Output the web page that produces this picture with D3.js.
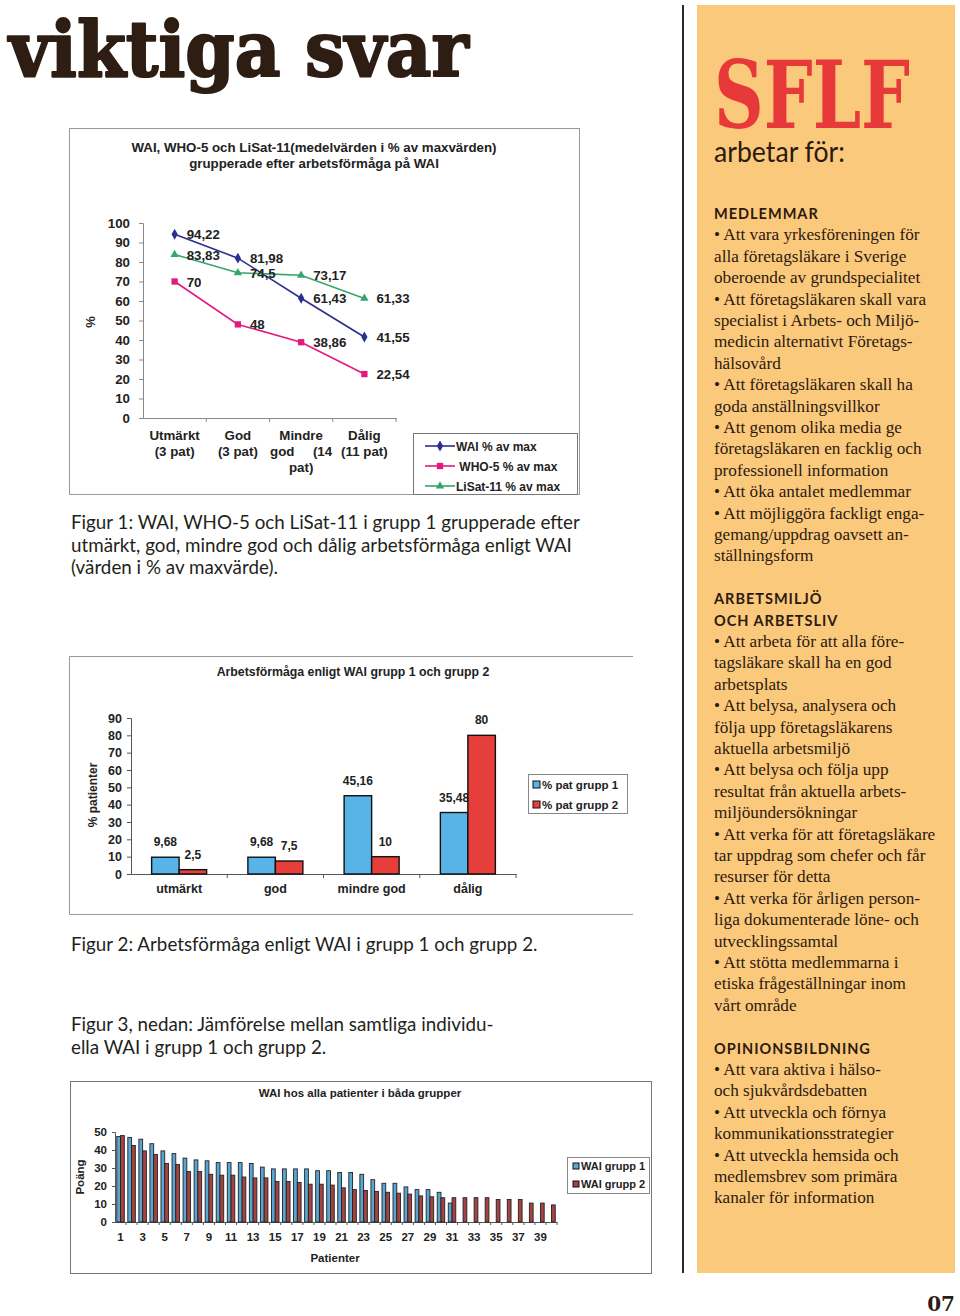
<!DOCTYPE html>
<html><head><meta charset="utf-8">
<script src="https://cdn.jsdelivr.net/npm/d3@7"></script>
<style>body{margin:0;background:#fff}svg{display:block}</style>
</head><body>
<script>
// ---------- Figure 1 data ----------
const fig1Categories = ["Utmärkt", "God", "Mindre god", "Dålig"];
const fig1TickLines = [["Utmärkt", "(3 pat)"], ["God", "(3 pat)"], ["Mindre", "god\u00a0\u00a0\u00a0\u00a0\u00a0(14", "pat)"], ["Dålig", "(11 pat)"]];
const waiValues = [94.22, 81.98, 61.43, 41.55];
const who5Values = [70, 48, 38.86, 22.54];
const lisatValues = [83.83, 74.5, 73.17, 61.33];
const fig1SeriesNames = ["WAI % av max", " WHO-5 % av max", "LiSat-11 % av max"];
const fig1YTicks = [0, 10, 20, 30, 40, 50, 60, 70, 80, 90, 100];
const fig1Title = ["WAI, WHO-5 och LiSat-11(medelvärden i % av maxvärden)", "grupperade efter arbetsförmåga på WAI"];

// ---------- Figure 2 data ----------
const fig2Categories = ["utmärkt", "god", "mindre god", "dålig"];
const grupp1Pct = [9.68, 9.68, 45.16, 35.48];
const grupp2Pct = [2.5, 7.5, 10, 80];
const fig2SeriesNames = ["% pat grupp 1", "% pat grupp 2"];
const fig2YTicks = [0, 10, 20, 30, 40, 50, 60, 70, 80, 90];
const fig2Title = "Arbetsförmåga enligt WAI grupp 1 och grupp 2";

// ---------- Figure 3 data ----------
const patients = [1,2,3,4,5,6,7,8,9,10,11,12,13,14,15,16,17,18,19,20,21,22,23,24,25,26,27,28,29,30,31,32,33,34,35,36,37,38,39,40];
const waiGrupp1 = [47.5, 47, 46, 43.5, 39.5, 38, 35.5, 34.5, 34, 33, 33, 33, 32.5, 30.5, 29.5, 29.5, 29.5, 29.5, 28.5, 28.5, 27.5, 27.5, 26.5, 23.5, 21.5, 21.5, 19.5, 18, 18, 16.5, 10.5];
const waiGrupp2 = [48, 42.5, 39.5, 37.5, 32.5, 32, 28, 28, 26.5, 26, 26, 25, 24.5, 24.5, 22.5, 22.5, 22, 21, 21, 20.5, 19, 18, 17.5, 17, 16.5, 16, 15.5, 14.5, 14, 13.5, 13.5, 13.5, 13.5, 13.5, 12.5, 12.5, 12.5, 10.5, 10.5, 9.5];
const fig3XTickLabels = [1,3,5,7,9,11,13,15,17,19,21,23,25,27,29,31,33,35,37,39];
const fig3YTicks = [0, 10, 20, 30, 40, 50];
const fig3SeriesNames = ["WAI grupp 1", "WAI grupp 2"];
const fig3Title = "WAI hos alla patienter i båda grupper";

// ---------- Page text ----------
const headline = "viktiga svar";
const caption1 = ["Figur 1: WAI, WHO-5 och LiSat-11 i grupp 1 grupperade efter", "utmärkt, god, mindre god och dålig arbetsförmåga enligt WAI", "(värden i % av maxvärde)."];
const caption2 = ["Figur 2: Arbetsförmåga enligt WAI i grupp 1 och grupp 2."];
const caption3 = ["Figur 3, nedan: Jämförelse mellan samtliga individu-", "ella WAI i grupp 1 och grupp 2."];
const panelLines = [
 "#MEDLEMMAR",
 "• Att vara yrkesföreningen för", "alla företagsläkare i Sverige", "oberoende av grundspecialitet",
 "• Att företagsläkaren skall vara", "specialist i Arbets- och Miljö-", "medicin alternativt Företags-", "hälsovård",
 "• Att företagsläkaren skall ha", "goda anställningsvillkor",
 "• Att genom olika media ge", "företagsläkaren en facklig och", "professionell information",
 "• Att öka antalet medlemmar",
 "• Att möjliggöra fackligt enga-", "gemang/uppdrag oavsett an-", "ställningsform",
 "",
 "#ARBETSMILJÖ", "#OCH ARBETSLIV",
 "• Att arbeta för att alla före-", "tagsläkare skall ha en god", "arbetsplats",
 "• Att belysa, analysera och", "följa upp företagsläkarens", "aktuella arbetsmiljö",
 "• Att belysa och följa upp", "resultat från aktuella arbets-", "miljöundersökningar",
 "• Att verka för att företagsläkare", "tar uppdrag som chefer och får", "resurser för detta",
 "• Att verka för årligen person-", "liga dokumenterade löne- och", "utvecklingssamtal",
 "• Att stötta medlemmarna i", "etiska frågeställningar inom", "vårt område",
 "",
 "#OPINIONSBILDNING",
 "• Att vara aktiva i hälso-", "och sjukvårdsdebatten",
 "• Att utveckla och förnya", "kommunikationsstrategier",
 "• Att utveckla hemsida och", "medlemsbrev som primära", "kanaler för information"
];

const fmt = v => String(v).replace(".", ",");
const CH = "'Liberation Sans', Arial, sans-serif";
const svg = d3.select("body").append("svg").attr("width", 960).attr("height", 1316);

// fit a text horizontally to a target width via an x-scale transform
function fitText(sel, x, y, width) {
  const w = sel.node().getComputedTextLength();
  sel.attr("x", 0).attr("y", 0).attr("transform", `translate(${x},${y}) scale(${width / w},1)`);
}

// ---------- Headline ----------
fitText(svg.append("text").text(headline)
  .attr("font-family", "'DejaVu Serif', serif").attr("font-weight", "bold").attr("font-size", 77)
  .attr("fill", "#2d1d12").attr("stroke", "#2d1d12").attr("stroke-width", 2.2).attr("stroke-linejoin", "round"), 9, 76, 460);

// vertical rule
svg.append("line").attr("x1", 683).attr("x2", 683).attr("y1", 5).attr("y2", 1273).attr("stroke", "#2a2a2a").attr("stroke-width", 2);

// ---------- Right panel ----------
svg.append("rect").attr("x", 697).attr("y", 5).attr("width", 258).attr("height", 1268).attr("fill", "#fbc97c");
fitText(svg.append("text").text("SFLF")
  .attr("font-family", "'DejaVu Serif', serif").attr("font-weight", "bold").attr("font-size", 93)
  .attr("fill", "#e8393a"), 714, 128, 196);
fitText(svg.append("text").text("arbetar för:")
  .attr("font-family", "Lato, sans-serif").attr("font-size", 28).attr("fill", "#2b1a10"), 714, 162, 131);
const panel = svg.append("g");
panelLines.forEach((ln, i) => {
  if (!ln) return;
  const y = 219 + i * 21.4;
  if (ln.startsWith("#")) {
    panel.append("text").attr("x", 714).attr("y", y).text(ln.slice(1))
      .attr("font-family", "Lato, sans-serif").attr("font-weight", "bold").attr("font-size", 14.5)
      .attr("letter-spacing", 1.0).attr("fill", "#2b1a10");
  } else {
    panel.append("text").attr("x", 714).attr("y", y).text(ln)
      .attr("font-family", "'Liberation Serif', serif").attr("font-size", 17.2).attr("fill", "#2b1a10");
  }
});
svg.append("text").attr("x", 955).attr("y", 1311).attr("text-anchor", "end").text("07")
  .attr("font-family", "'DejaVu Serif', serif").attr("font-weight", "bold").attr("font-size", 20).attr("fill", "#2d1d12");

// ---------- Captions ----------
function caption(lines, y0) {
  lines.forEach((t, i) => svg.append("text").attr("x", 71).attr("y", y0 + i * 22.5).text(t)
    .attr("font-family", "Lato, sans-serif").attr("font-size", 18.8).attr("fill", "#231f20"));
}
caption(caption1, 529);
caption(caption2, 951);
caption(caption3, 1031);

// ================= Figure 1 =================
{
  const g = svg.append("g");
  g.append("rect").attr("x", 69.5).attr("y", 128.5).attr("width", 510).attr("height", 366)
    .attr("fill", "#fff").attr("stroke", "#9a9a9a");
  fig1Title.forEach((t, i) => g.append("text").attr("x", 314).attr("y", 152 + i * 16).attr("text-anchor", "middle")
    .text(t).attr("font-family", CH).attr("font-weight", "bold").attr("font-size", 13.3).attr("fill", "#222"));
  const y = d3.scaleLinear().domain([0, 100]).range([418, 223]);
  const x = d3.scaleBand().domain(fig1Categories).range([143, 396]);
  const cx = c => x(c) + x.bandwidth() / 2;
  const ya = g.append("g").attr("transform", "translate(143,0)")
    .call(d3.axisLeft(y).tickValues(fig1YTicks).tickSize(4).tickPadding(9).tickFormat(d3.format("d")));
  const xa = g.append("g").attr("transform", "translate(0,418)")
    .call(d3.axisBottom(x).tickSize(0).tickFormat(""));
  g.selectAll(".xb").data(fig1Categories).join("line")
    .attr("x1", (d, i) => 143 + (i + 1) * x.bandwidth()).attr("x2", (d, i) => 143 + (i + 1) * x.bandwidth())
    .attr("y1", 418).attr("y2", 422).attr("stroke", "#888");
  [ya, xa].forEach(a => { a.selectAll("path,line").attr("stroke", "#888"); a.selectAll("text").attr("font-family", CH).attr("font-weight", "bold").attr("font-size", 13.3).attr("fill", "#222"); });
  g.append("text").attr("transform", "translate(95,322) rotate(-90)").attr("text-anchor", "middle").text("%")
    .attr("font-family", CH).attr("font-weight", "bold").attr("font-size", 13).attr("fill", "#222");
  fig1Categories.forEach((c, i) => {
    fig1TickLines[i].forEach((t, j) => g.append("text").attr("x", cx(c)).attr("y", 440 + j * 16).attr("text-anchor", "middle")
      .style("white-space", "pre").text(t).attr("font-family", CH).attr("font-weight", "bold").attr("font-size", 13.3).attr("fill", "#222"));
  });
  const series = [
    { vals: waiValues, color: "#2b2f8f", sym: d3.symbolDiamond, size: 34 },
    { vals: who5Values, color: "#e4197f", sym: d3.symbolSquare, size: 40 },
    { vals: lisatValues, color: "#35a56c", sym: d3.symbolTriangle, size: 30 }
  ];
  const line = d3.line().x((d, i) => cx(fig1Categories[i])).y(d => y(d));
  series.forEach(s => {
    g.append("path").attr("d", line(s.vals)).attr("fill", "none").attr("stroke", s.color).attr("stroke-width", 1.6);
    s.vals.forEach((v, i) => {
      g.append("path").attr("d", d3.symbol(s.sym, s.size)()).attr("transform", `translate(${cx(fig1Categories[i])},${y(v)})`).attr("fill", s.color);
      g.append("text").attr("x", cx(fig1Categories[i]) + 12).attr("y", y(v) + 5).text(fmt(v))
        .attr("font-family", CH).attr("font-weight", "bold").attr("font-size", 13.3).attr("fill", "#222");
    });
  });
  g.append("rect").attr("x", 413.5).attr("y", 433.5).attr("width", 164).attr("height", 61).attr("fill", "#fff").attr("stroke", "#777");
  series.forEach((s, i) => {
    const ly = 446 + i * 20;
    g.append("line").attr("x1", 425).attr("x2", 455).attr("y1", ly).attr("y2", ly).attr("stroke", s.color).attr("stroke-width", 1.6);
    g.append("path").attr("d", d3.symbol(s.sym, s.size)()).attr("transform", `translate(440,${ly})`).attr("fill", s.color);
    g.append("text").attr("x", 456).attr("y", ly + 4.5).style("white-space", "pre").text(fig1SeriesNames[i])
      .attr("font-family", CH).attr("font-weight", "bold").attr("font-size", 12).attr("fill", "#222");
  });
}

// ================= Figure 2 =================
{
  const g = svg.append("g");
  g.append("path").attr("d", "M633,656.5H69.5V914.5H633").attr("fill", "none").attr("stroke", "#9a9a9a");
  g.append("text").attr("x", 353).attr("y", 676).attr("text-anchor", "middle").text(fig2Title)
    .attr("font-family", CH).attr("font-weight", "bold").attr("font-size", 12.3).attr("fill", "#222");
  const y = d3.scaleLinear().domain([0, 90]).range([874, 718]);
  const x0 = d3.scaleBand().domain(fig2Categories).range([131, 516]).paddingInner(0.4286).paddingOuter(0.2143);
  const x1 = d3.scaleBand().domain([0, 1]).range([0, x0.bandwidth()]);
  const ya = g.append("g").attr("transform", "translate(131,0)")
    .call(d3.axisLeft(y).tickValues(fig2YTicks).tickSize(4).tickPadding(5));
  const xa = g.append("g").attr("transform", "translate(0,874)").call(d3.axisBottom(x0).tickSize(0).tickPadding(10));
  const step = x0.step();
  [1, 2, 3, 4].forEach(i => g.append("line").attr("x1", 131 + i * step).attr("x2", 131 + i * step).attr("y1", 874).attr("y2", 878).attr("stroke", "#555"));
  [ya, xa].forEach(a => { a.selectAll("path,line").attr("stroke", "#555"); a.selectAll("text").attr("font-family", CH).attr("font-weight", "bold").attr("font-size", 12.5).attr("fill", "#222"); });
  g.append("text").attr("transform", "translate(97,795) rotate(-90)").attr("text-anchor", "middle").text("% patienter")
    .attr("font-family", CH).attr("font-weight", "bold").attr("font-size", 12).attr("fill", "#222");
  const colors = ["#58b3e6", "#e63e3a"];
  [grupp1Pct, grupp2Pct].forEach((vals, s) => {
    vals.forEach((v, i) => {
      const bx = x0(fig2Categories[i]) + x1(s);
      g.append("rect").attr("x", bx).attr("y", y(v)).attr("width", x1.bandwidth()).attr("height", 874 - y(v))
        .attr("fill", colors[s]).attr("stroke", "#111").attr("stroke-width", 1.4);
      g.append("text").attr("x", bx + x1.bandwidth() / 2).attr("y", y(v) - 11).attr("text-anchor", "middle").text(fmt(v))
        .attr("font-family", CH).attr("font-weight", "bold").attr("font-size", 12).attr("fill", "#222");
    });
  });
  g.append("rect").attr("x", 528.5).attr("y", 774.5).attr("width", 99).attr("height", 39).attr("fill", "#fff").attr("stroke", "#888");
  fig2SeriesNames.forEach((n, i) => {
    g.append("rect").attr("x", 533).attr("y", 781 + i * 20).attr("width", 7).attr("height", 7).attr("fill", colors[i]).attr("stroke", "#111");
    g.append("text").attr("x", 542).attr("y", 789 + i * 20).text(n)
      .attr("font-family", CH).attr("font-weight", "bold").attr("font-size", 11.5).attr("fill", "#222");
  });
}

// ================= Figure 3 =================
{
  const g = svg.append("g");
  g.append("rect").attr("x", 70.5).attr("y", 1081.5).attr("width", 581).attr("height", 192).attr("fill", "#fff").attr("stroke", "#777");
  g.append("text").attr("x", 360).attr("y", 1097).attr("text-anchor", "middle").text(fig3Title)
    .attr("font-family", CH).attr("font-weight", "bold").attr("font-size", 11.5).attr("fill", "#222");
  const y = d3.scaleLinear().domain([0, 50]).range([1222, 1132]);
  const x0 = d3.scaleBand().domain(patients).range([115, 557]).paddingInner(0.32).paddingOuter(0.16);
  const x1 = d3.scaleBand().domain([0, 1]).range([0, x0.bandwidth()]);
  const ya = g.append("g").attr("transform", "translate(115,0)").call(d3.axisLeft(y).tickValues(fig3YTicks).tickSize(3).tickPadding(5));
  const xa = g.append("g").attr("transform", "translate(0,1222)").call(d3.axisBottom(x0).tickSize(0).tickFormat(""));
  const step = x0.step();
  patients.forEach((p, i) => g.append("line").attr("x1", 115 + (i + 1) * step).attr("x2", 115 + (i + 1) * step).attr("y1", 1222).attr("y2", 1225).attr("stroke", "#555"));
  [ya, xa].forEach(a => { a.selectAll("path,line").attr("stroke", "#555"); a.selectAll("text").attr("font-family", CH).attr("font-weight", "bold").attr("font-size", 11.5).attr("fill", "#222"); });
  fig3XTickLabels.forEach(p => g.append("text").attr("x", x0(p) + x0.bandwidth() / 2).attr("y", 1241).attr("text-anchor", "middle").text(p)
    .attr("font-family", CH).attr("font-weight", "bold").attr("font-size", 11.5).attr("fill", "#222"));
  g.append("text").attr("transform", "translate(84,1177) rotate(-90)").attr("text-anchor", "middle").text("Poäng")
    .attr("font-family", CH).attr("font-weight", "bold").attr("font-size", 11.5).attr("fill", "#222");
  g.append("text").attr("x", 335).attr("y", 1262).attr("text-anchor", "middle").text("Patienter")
    .attr("font-family", CH).attr("font-weight", "bold").attr("font-size", 11.5).attr("fill", "#222");
  const colors = ["#5aa6cf", "#a6433f"];
  [waiGrupp1, waiGrupp2].forEach((vals, s) => {
    vals.forEach((v, i) => {
      g.append("rect").attr("x", x0(patients[i]) + x1(s)).attr("y", y(v)).attr("width", x1.bandwidth()).attr("height", 1222 - y(v))
        .attr("fill", colors[s]).attr("stroke", "#1d2329").attr("stroke-width", 0.9);
    });
  });
  g.append("rect").attr("x", 567.5).attr("y", 1157.5).attr("width", 82).attr("height", 36).attr("fill", "#fff").attr("stroke", "#888");
  fig3SeriesNames.forEach((n, i) => {
    g.append("rect").attr("x", 573).attr("y", 1163 + i * 18).attr("width", 6).attr("height", 6).attr("fill", colors[i]).attr("stroke", "#111");
    g.append("text").attr("x", 581).attr("y", 1170 + i * 18).text(n)
      .attr("font-family", CH).attr("font-weight", "bold").attr("font-size", 11).attr("fill", "#222");
  });
}
</script>
</body></html>
